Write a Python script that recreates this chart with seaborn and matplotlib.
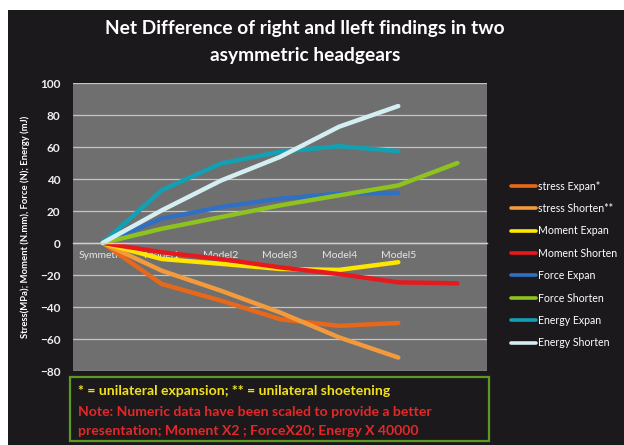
import numpy as np
import pandas as pd
import matplotlib
matplotlib.use("Agg")
import matplotlib.pyplot as plt
import seaborn as sns
from matplotlib.patches import Rectangle

# category labels (7th slot has no label)
categories = ['Symmetric', 'Model1', 'Model2', 'Model3', 'Model4', 'Model5', '']

# values (scaled as in the original note)
stress_expan = [0, -25.6, -36, -47.6, -51.8, -50, np.nan]
stress_shorten = [0, -17.3, -29.8, -43.4, -59, -71.6, np.nan]
moment_expan = [0, -10, -13, -16.2, -16.8, -12, np.nan]
moment_shorten = [0, -5.8, -10, -15.2, -19.4, -24.6, -25.2]
force_expan = [0, 15.2, 22.5, 27.7, 30.8, 31.3, np.nan]
force_shorten = [0, 8.9, 16.2, 23.5, 29.8, 36, 50]
energy_expan = [0, 33, 49.7, 57, 60.5, 57.4, np.nan]
energy_shorten = [0, 20.4, 39, 53.8, 72.7, 85.6, np.nan]

series = {
    'stress Expan*': stress_expan,
    'stress Shorten**': stress_shorten,
    'Moment Expan': moment_expan,
    'Moment Shorten': moment_shorten,
    'Force Expan': force_expan,
    'Force Shorten': force_shorten,
    'Energy Expan': energy_expan,
    'Energy Shorten': energy_shorten,
}
colors = ['#e8681a', '#f39a3c', '#ffe600', '#e8191c',
          '#2f6fc4', '#8dc21f', '#12a0b4', '#d4eef2']

rows = []
for name, vals in series.items():
    for i, v in enumerate(vals):
        rows.append({'pos': i, 'value': v, 'series': name})
df = pd.DataFrame(rows).dropna()

sns.set_style('white')
plt.rcParams['font.family'] = ['Lato', 'DejaVu Sans']

fig = plt.figure(figsize=(6.24, 4.45), dpi=100, facecolor='white')
# dark panel behind everything
fig.patches.append(Rectangle((8 / 624, 0), 1, 1 - 10 / 445, transform=fig.transFigure,
                             facecolor='#1b191c', edgecolor='none', zorder=-10))

ax = fig.add_axes([73 / 624, 74 / 445, 414 / 624, 288 / 445])
ax.set_facecolor('#6f6f70')

sns.lineplot(data=df, x='pos', y='value', hue='series', palette=colors,
             hue_order=list(series.keys()), linewidth=3.2, ax=ax, legend=True)

ax.set_xlim(-0.5, 6.5)
ax.set_ylim(-80, 100)
ax.set_yticks(range(-80, 101, 20))
ax.yaxis.grid(True, color='#c4c4c4', linewidth=0.9)
ax.set_axisbelow(True)
for s in ['top', 'right', 'left']:
    ax.spines[s].set_visible(False)
ax.spines['bottom'].set_position(('data', 0))
ax.spines['bottom'].set_color('#d0d0d0')
ax.spines['bottom'].set_linewidth(1.0)
ax.set_xticks(range(len(categories)))
ax.set_xticklabels(categories)
ax.tick_params(axis='x', length=0, pad=6, labelsize=7.5, labelcolor='#e6e6e6')
ax.tick_params(axis='y', length=0, pad=9, labelsize=8.5, labelcolor='#eeeeee')
for t in ax.get_yticklabels():
    t.set_fontweight('bold')
ax.set_xlabel('')
ax.set_ylabel('Stress(MPa); Moment (N.mm), Force (N); Energy (mJ)',
              color='white', fontsize=6.8, fontweight='bold', labelpad=7)

leg = ax.legend(loc='center left', bbox_to_anchor=(1.035, 0.37), frameon=False,
                fontsize=7.6, labelcolor='white', handlelength=2.4,
                labelspacing=1.08, handletextpad=0.15)
for line in leg.get_lines():
    line.set_linewidth(2.6)

fig.text(305 / 624, 0.935, 'Net Difference of right and lleft findings in two',
         ha='center', va='center', color='white', fontsize=13.8, fontweight='bold')
fig.text(305 / 624, 0.875, 'asymmetric headgears',
         ha='center', va='center', color='white', fontsize=13.8, fontweight='bold')

# note box
fig.patches.append(Rectangle((70 / 624, 4 / 445), 419 / 624, 64 / 445, transform=fig.transFigure,
                             facecolor='none', edgecolor='#5e9a22', linewidth=1.6))
fig.text(78 / 624, 1 - 391 / 445, '* = unilateral expansion; ** = unilateral shoetening',
         ha='left', va='center', color='#f2e21a', fontsize=10.1, fontweight='bold')
fig.text(78 / 624, 1 - 412 / 445, 'Note: Numeric data have been scaled to provide a better',
         ha='left', va='center', color='#e4282a', fontsize=10.1, fontweight='bold')
fig.text(78 / 624, 1 - 431 / 445, 'presentation; Moment X2 ; ForceX20; Energy X 40000',
         ha='left', va='center', color='#e4282a', fontsize=10.1, fontweight='bold')

fig.savefig('out.png', dpi=100, facecolor=fig.get_facecolor())
